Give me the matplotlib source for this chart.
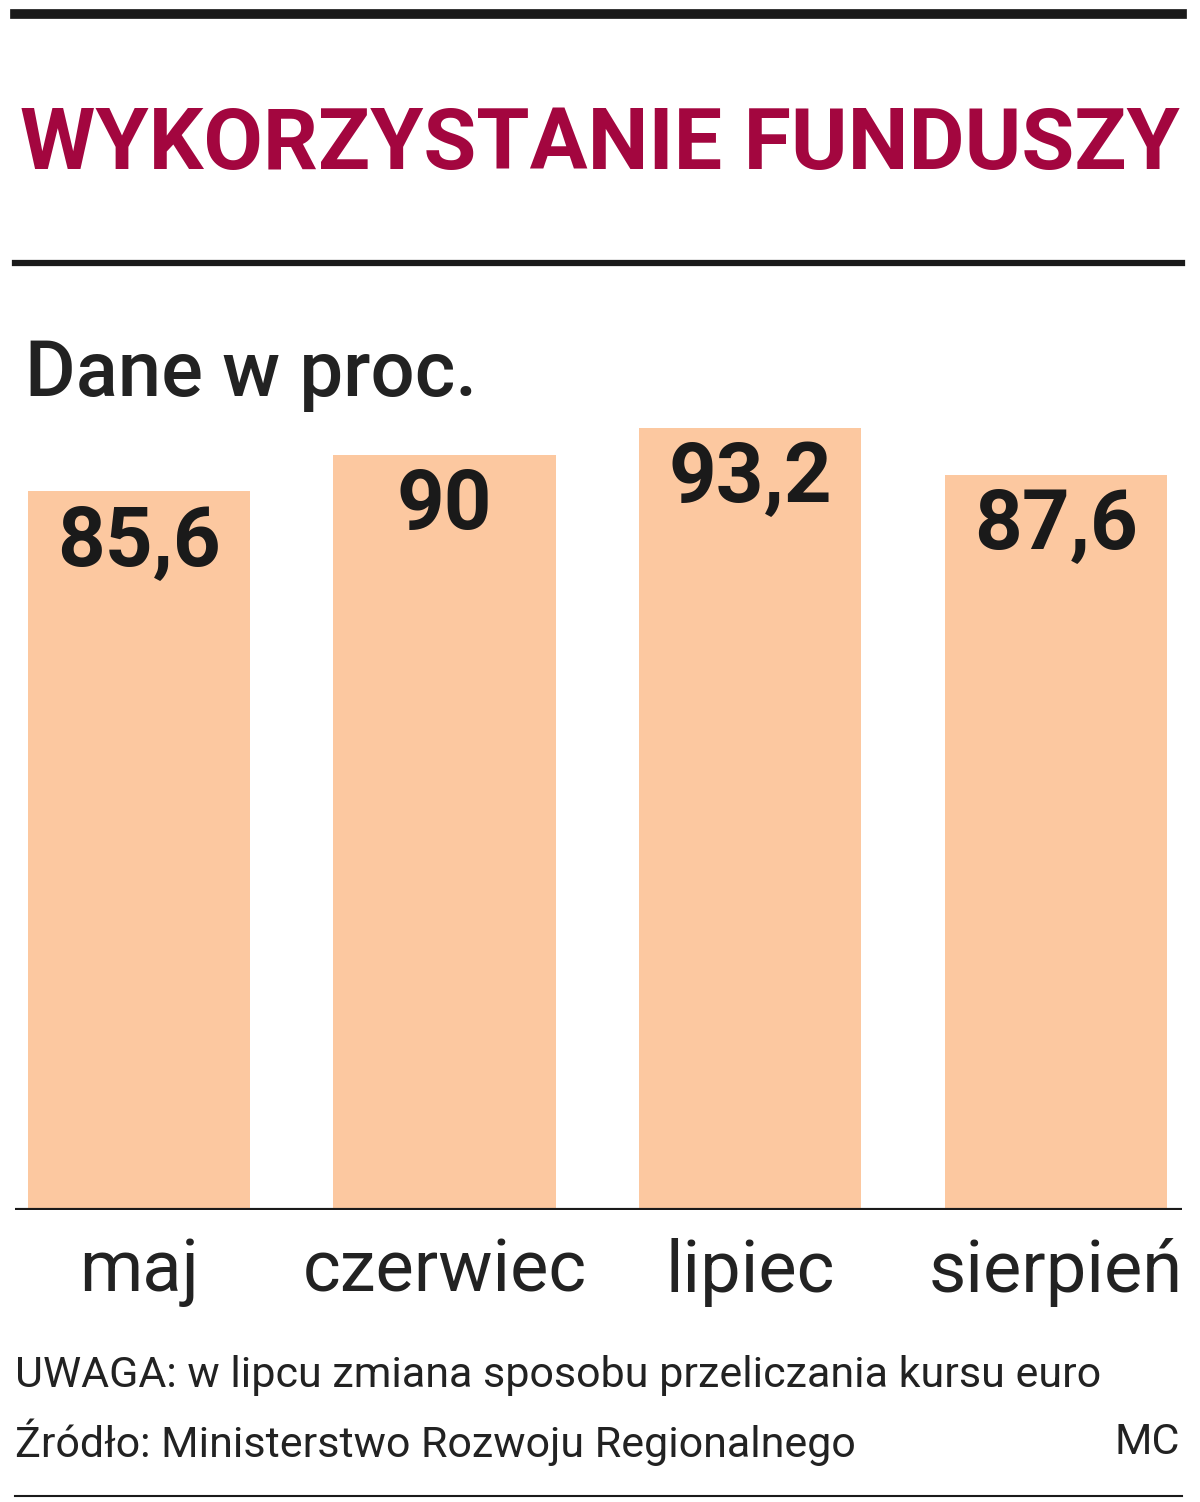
import matplotlib
matplotlib.use("Agg")
import matplotlib.pyplot as plt
from matplotlib.lines import Line2D

months = ["maj", "czerwiec", "lipiec", "sierpień"]
values = [85.6, 90, 93.2, 87.6]
value_labels = ["85,6", "90", "93,2", "87,6"]

TITLE = "WYKORZYSTANIE FUNDUSZY"
SUBTITLE = "Dane w proc."
NOTE = "UWAGA: w lipcu zmiana sposobu przeliczania kursu euro"
SOURCE = "Źródło: Ministerstwo Rozwoju Regionalnego"
AUTHOR = "MC"

FONT = ["Roboto", "DejaVu Sans"]
W, H = 1200, 1502


def fy(py):
    return 1 - py / H


def fx(px):
    return px / W


fig = plt.figure(figsize=(W / 100, H / 100), dpi=100)
fig.patch.set_facecolor("white")

# horizontal rules
for y, lw in [(14, 7), (263, 4.5), (1496, 1.5)]:
    fig.add_artist(Line2D([fx(15), fx(1182)], [fy(y), fy(y)], color="#1a1a1a", lw=lw))

title = fig.text(fx(20), fy(145), TITLE, fontsize=80, fontweight="bold",
                 color="#A3063F", family=FONT, va="center", ha="left")
fig.canvas.draw()
bb = title.get_window_extent()
title.set_fontsize(80 * 1160 / bb.width)

fig.text(fx(25), fy(375), SUBTITLE, fontsize=56, fontweight="medium",
         color="#222222", family=FONT, va="center", ha="left")

ax = fig.add_axes([fx(15), fy(1210), fx(1167), fy(400) - fy(1210)])
x = range(len(values))
ax.bar(x, values, width=0.728, color="#FCC8A0", zorder=2)
for xi, v, lab in zip(x, values, value_labels):
    ax.text(xi, v - 1.5, lab, ha="center", va="top", fontsize=60,
            fontweight="bold", color="#1a1a1a", family=FONT)
ax.set_xlim(-0.406, 3.413)
ax.set_ylim(0, 96.5)
ax.axhline(0, color="#1a1a1a", lw=3, zorder=3)
for s in ax.spines.values():
    s.set_visible(False)
ax.set_yticks([])
ax.set_xticks(list(x))
ax.set_xticklabels(months, fontsize=52, color="#222222", family=FONT)
ax.tick_params(axis="x", length=0, pad=20)

fig.text(fx(15), fy(1375), NOTE, fontsize=31, color="#222222", family=FONT,
         va="center", ha="left")
fig.text(fx(15), fy(1442), SOURCE, fontsize=31, color="#222222", family=FONT,
         va="center", ha="left")
fig.text(fx(1180), fy(1442), AUTHOR, fontsize=31, color="#222222", family=FONT,
         va="center", ha="right")

fig.savefig("out.png", dpi=100)
